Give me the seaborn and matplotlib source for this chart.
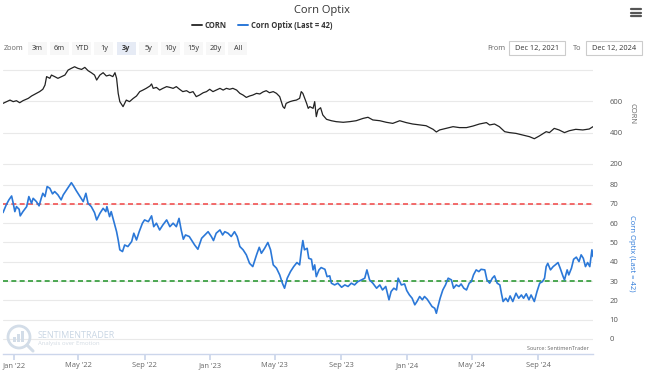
import pandas as pd
import numpy as np
import matplotlib.pyplot as plt
import matplotlib.dates as mdates
from matplotlib.patches import Rectangle, Ellipse
from matplotlib.lines import Line2D
import seaborn as sns

# valores (dias contados a partir de 2022-01-01)
corn_days = [-20, -7, -1, 5, 11, 17, 27, 33, 42, 48, 54, 58, 61, 67, 70, 76, 82, 89, 95,
             101, 107, 113, 119, 126, 132, 138, 144, 150, 154, 160, 166, 172, 178, 184, 188,
             191, 194, 197, 203, 206, 209, 215, 222, 228, 234, 240, 246, 253, 256, 259, 265,
             271, 277, 284, 290, 296, 302, 308, 314, 321, 327, 333, 339, 345, 352, 358, 364,
             370, 376, 383, 389, 395, 401, 407, 414, 420, 426, 432, 438, 444, 451, 457, 463,
             469, 475, 482, 488, 494, 500, 503, 506, 513, 519, 525, 531, 534, 537, 544, 547,
             550, 556, 559, 562, 565, 570, 574, 581, 590, 599, 612, 624, 636, 649, 658, 667,
             680, 692, 704, 717, 729, 741, 754, 766, 779, 785, 791, 803, 816, 828, 841, 853,
             865, 878, 884, 893, 902, 912, 921, 933, 945, 958, 967, 976, 989, 995, 1004, 1013,
             1023, 1032, 1044, 1057, 1069, 1076]
corn_vals = [587, 608, 598, 604, 591, 604, 619, 634, 651, 662, 677, 704, 758, 747, 768, 758, 747,
             758, 768, 800, 811, 821, 811, 804, 817, 796, 783, 768, 736, 768, 783, 762, 768, 758,
             783, 747, 651, 598, 566, 587, 608, 598, 619, 634, 662, 672, 683, 698, 711, 683, 689,
             672, 683, 694, 689, 683, 694, 677, 662, 668, 655, 662, 630, 640, 655, 662, 677, 662,
             672, 683, 672, 683, 677, 683, 672, 651, 640, 625, 634, 640, 651, 647, 660, 668, 655,
             662, 651, 630, 566, 555, 587, 598, 604, 608, 619, 662, 651, 587, 555, 566, 555, 598,
             502, 545, 559, 513, 485, 476, 470, 466, 470, 476, 491, 498, 481, 476, 466, 459, 476,
             464, 455, 449, 444, 421, 404, 417, 427, 438, 432, 432, 442, 455, 464, 449, 455, 438,
             406, 400, 395, 385, 374, 361, 378, 406, 400, 427, 417, 400, 412, 421, 417, 423, 438]

optix_days = [-20, -14, -9, -4, -1, 2, 5, 10, 12, 17, 24, 28, 33, 36, 42, 47, 51, 54, 58, 62, 67,
              72, 76, 82, 88, 92, 98, 104, 107, 111, 116, 123, 129, 134, 138, 144, 150, 154, 160,
              166, 171, 173, 178, 181, 186, 191, 194, 197, 202, 206, 212, 219, 223, 228, 233, 239,
              243, 250, 256, 260, 265, 271, 277, 284, 290, 296, 302, 307, 311, 315, 319, 326, 332,
              336, 342, 349, 355, 361, 367, 371, 376, 383, 388, 392, 398, 404, 410, 415, 420, 426,
              432, 438, 444, 451, 456, 460, 466, 472, 477, 482, 488, 494, 499, 503, 508, 514, 520,
              526, 531, 534, 537, 540, 545, 548, 553, 556, 559, 562, 567, 571, 578, 582, 587, 590,
              596, 602, 609, 615, 621, 627, 633, 639, 646, 652, 656, 661, 667, 674, 680, 685, 691,
              697, 701, 706, 711, 714, 720, 726, 730, 735, 740, 745, 749, 754, 759, 763, 768, 773,
              777, 782, 785, 788, 792, 797, 802, 807, 813, 817, 822, 827, 831, 836, 841, 846, 850,
              854, 859, 864, 868, 875, 879, 884, 889, 893, 898, 903, 906, 909, 914, 918, 922, 927,
              933, 938, 943, 947, 952, 957, 961, 967, 972, 977, 982, 986, 989, 992, 997, 1002,
              1006, 1011, 1015, 1020, 1023, 1028, 1031, 1036, 1040, 1045, 1050, 1054, 1058, 1062,
              1066, 1070, 1072, 1074, 1076]
optix_vals = [65.5, 69.5, 72.1, 74.1, 70.3, 66, 68.6, 67.2, 63.8, 66, 68.6, 73.8, 70.3, 72.9, 71.2,
              69, 72.9, 75.5, 73.8, 79, 78.1, 75.2, 76.4, 74.7, 72.1, 74.7, 77.2, 79.8, 81, 79.3,
              76.9, 73.8, 71.2, 75.5, 70.3, 68.6, 65.5, 61.7, 65.1, 67.7, 66, 68.6, 63.4, 66, 60.8,
              55.6, 51.3, 46.2, 45.3, 48.7, 47.9, 50.5, 54.8, 51.3, 55.6, 60, 61.7, 60.8, 63.8, 58.2,
              60, 56.5, 59.1, 61.7, 58.2, 60, 58.2, 62.5, 56.5, 51.7, 53.9, 53.1, 50.5, 48.7, 46.5,
              52.2, 53.9, 55.6, 53.1, 51, 54.8, 56.5, 53.9, 55.6, 54.8, 53.1, 55.6, 53.1, 47.9, 46.2,
              43.6, 39.2, 37.5, 43.6, 47.5, 44.4, 47, 50, 46.2, 38.4, 36.7, 33.2, 28.9, 26.3, 31.5,
              34.9, 37.5, 39.6, 38.4, 45.3, 51, 46.2, 47, 41.8, 41.3, 35.8, 38.4, 32.3, 35.8, 37,
              36.1, 32.3, 32.7, 28.9, 28, 28.9, 26.8, 28, 27.2, 28.9, 28, 29.7, 30.6, 31.5, 35.8,
              30.6, 28.9, 26.3, 28, 25.4, 27.2, 20.3, 24.6, 26.3, 25.4, 31.5, 28, 28.5, 25.1, 22.8,
              21.1, 17.7, 19.4, 22, 20.3, 22, 20.6, 18.5, 16.8, 15.9, 13.3, 16.8, 21.1, 25.4, 28,
              31.5, 30.6, 26.3, 28, 27.2, 28.5, 26.3, 25.4, 28.9, 29.7, 33.2, 35.8, 34.9, 36.1, 35.8,
              30.6, 28.9, 31.5, 32.7, 28.9, 28, 23.4, 19.4, 21.1, 19.4, 22.3, 19.4, 23.7, 21.1, 22.8,
              21.1, 23.4, 20.3, 22.8, 19.4, 24.6, 28.9, 29.7, 31.5, 37.5, 39.2, 35.8, 37.5, 38.4,
              39.6, 36.7, 32.7, 30.6, 35.8, 33.2, 36.7, 41.3, 42.4, 40.1, 43.6, 41.8, 37.5, 39.6,
              37.5, 41.8, 46.2, 42.7]

nivel_alto = 70
nivel_baixo = 30
corn_ticks = [200, 400, 600, 800]
optix_ticks = [0, 10, 20, 30, 40, 50, 60, 70, 80]

base = pd.Timestamp('2022-01-01')
corn_df = pd.DataFrame({'data': base + pd.to_timedelta(corn_days, unit='D'), 'valor': corn_vals})
optix_df = pd.DataFrame({'data': base + pd.to_timedelta(optix_days, unit='D'), 'valor': optix_vals})

sns.set_theme(style="white")
plt.rcParams['font.family'] = ['Open Sans', 'DejaVu Sans']

W, H = 645, 374
fig = plt.figure(figsize=(W / 100, H / 100), dpi=100)


def fx(px):
    return px / W


def fy(py):
    return 1 - py / H


azul = '#2b78d8'
cinza = '#666666'
grade = '#e9e9e9'

ax1 = fig.add_axes([fx(3), fy(170), fx(590), 107 / H])
ax2 = fig.add_axes([fx(3), fy(354), fx(590), 180 / H], sharex=ax1)

sns.lineplot(data=corn_df, x='data', y='valor', color='#222222', linewidth=0.9, ax=ax1)
sns.lineplot(data=optix_df, x='data', y='valor', color=azul, linewidth=1.2, ax=ax2)

ax2.axhline(nivel_alto, color='#f25252', linewidth=1.2, linestyle=(0, (3, 2)), zorder=1)
ax2.axhline(nivel_baixo, color='#2f9a36', linewidth=1.2, linestyle=(0, (3, 2)), zorder=1)

ax1.set_ylim(161, 845)
ax2.set_ylim(-7.8, 85.5)
ax1.set_xlim(pd.Timestamp('2021-12-12'), pd.Timestamp('2024-12-12'))

for ax in (ax1, ax2):
    for s in ax.spines.values():
        s.set_visible(False)
    ax.yaxis.tick_right()
    ax.set_xlabel('')
    ax.set_ylabel('')
    ax.grid(axis='y', color=grade, linewidth=0.8)
    ax.set_axisbelow(True)
    ax.tick_params(axis='y', length=0, pad=12, labelsize=5.5, labelcolor='#555555')

ax1.set_yticks(corn_ticks)
ax1.set_yticklabels(['200', '400', '600', ''])
ax2.set_yticks(optix_ticks)
for lab in ax1.get_yticklabels() + ax2.get_yticklabels():
    lab.set_horizontalalignment('left')

ax1.tick_params(axis='x', bottom=False, labelbottom=False)
ax2.spines['bottom'].set_visible(True)
ax2.spines['bottom'].set_color('#ccd6eb')
ax2.spines['bottom'].set_linewidth(1)
ax2.xaxis.set_major_locator(mdates.MonthLocator(bymonth=[1, 5, 9]))
ax2.xaxis.set_major_formatter(mdates.DateFormatter("%b '%y"))
ax2.tick_params(axis='x', bottom=True, length=4, color='#ccd6eb', pad=2,
                labelsize=5.4, labelcolor=cinza)

# rotulos dos eixos
fig.text(fx(632), fy(114), 'CORN', rotation=270, ha='center', va='center', fontsize=5.5, color=cinza)
fig.text(fx(632), fy(253), 'Corn Optix (Last = 42)', rotation=270, ha='center', va='center',
         fontsize=5.5, color=azul)

# titulo e legenda
fig.text(0.5, fy(10), 'Corn Optix', ha='center', va='center', fontsize=8, color='#333333')
handles = [Line2D([], [], color='#333333', lw=1.4), Line2D([], [], color=azul, lw=1.4)]
fig.legend(handles, ['CORN', 'Corn Optix (Last = 42)'], loc='center', bbox_to_anchor=(fx(262), fy(25)),
           ncol=2, frameon=False, prop=dict(weight='bold', size=5.5), handlelength=1.3,
           handletextpad=0.4, columnspacing=1.5, labelcolor='#333333')

# barra de zoom
fig.text(fx(4), fy(48), 'Zoom', ha='left', va='center', fontsize=5.3, color=cinza)
botoes = ['3m', '6m', 'YTD', '1y', '3y', '5y', '10y', '15y', '20y', 'All']
for i, b in enumerate(botoes):
    x0 = 27.5 + i * 22.3
    sel = b == '3y'
    fig.add_artist(Rectangle((fx(x0), fy(54.5)), fx(19), 12.5 / H, transform=fig.transFigure,
                             facecolor='#e6ebf5' if sel else '#f7f7f7', edgecolor='none'))
    fig.text(fx(x0 + 9.5), fy(48), b, ha='center', va='center', fontsize=5.3, color='#333333',
             weight='bold' if sel else 'normal')

fig.text(fx(487), fy(48), 'From', ha='left', va='center', fontsize=5.3, color=cinza)
fig.text(fx(573), fy(48), 'To', ha='left', va='center', fontsize=5.3, color=cinza)
for x0, txt in [(509, 'Dec 12, 2021'), (586, 'Dec 12, 2024')]:
    fig.add_artist(Rectangle((fx(x0), fy(55)), fx(56), 13.5 / H, transform=fig.transFigure,
                             facecolor='white', edgecolor='#cccccc', linewidth=0.8))
    fig.text(fx(x0 + 28), fy(48.3), txt, ha='center', va='center', fontsize=5.3, color='#333333')

# icone de menu
for yy in (9, 12.5, 16):
    fig.add_artist(Line2D([fx(631), fx(641)], [fy(yy), fy(yy)], transform=fig.transFigure,
                          color='#555555', lw=1.6))

# marca d'agua e fonte
fig.add_artist(Ellipse((fx(19), fy(337)), fx(22), 22 / H, transform=fig.transFigure,
                       facecolor='none', edgecolor='#d3dde8', lw=2))
for i, hh in enumerate([5, 8, 11]):
    fig.add_artist(Rectangle((fx(13 + i * 4), fy(342)), fx(3), hh / H, transform=fig.transFigure,
                             facecolor='#d3dde8', edgecolor='none'))
fig.add_artist(Line2D([fx(27), fx(33)], [fy(345), fy(351)], transform=fig.transFigure,
                      color='#d3dde8', lw=2.2))
fig.text(fx(38), fy(335), 'SENTIMENTRADER', ha='left', va='center', fontsize=6.5, color='#c9d6e4')
fig.text(fx(38), fy(344), 'Analysis over Emotion', ha='left', va='center', fontsize=4.3,
         color='#d3dbe3')
fig.text(fx(589), fy(348), 'Source: SentimenTrader', ha='right', va='center', fontsize=4,
         color=cinza)

fig.savefig('out.png', dpi=100)
